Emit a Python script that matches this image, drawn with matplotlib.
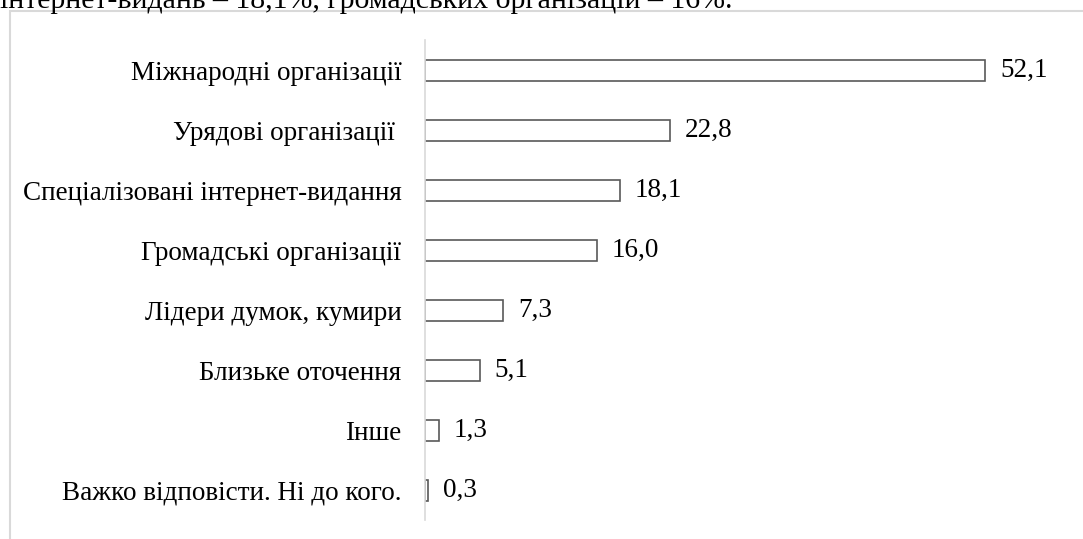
import matplotlib.pyplot as plt
from matplotlib.patches import Rectangle

plt.rcParams['font.family'] = ['Liberation Serif', 'DejaVu Serif']

categories = ['Міжнародні організації', 'Урядові організації ',
              'Спеціалізовані інтернет-видання', 'Громадські організації',
              'Лідери думок, кумири', 'Близьке оточення', 'Інше',
              'Важко відповісти. Ні до кого.']
values = [52.1, 22.8, 18.1, 16.0, 7.3, 5.1, 1.3, 0.3]
value_labels = ['52,1', '22,8', '18,1', '16,0', '7,3', '5,1', '1,3', '0,3']
top_text = 'інтернет-видань – 18,1%, громадських організацій – 16%.'

W, H = 1083, 539
fig = plt.figure(figsize=(W / 100, H / 100), dpi=100)

# frame around the chart (runs off the right/bottom edge)
fig.patches.append(Rectangle((10 / W, -0.1), 1.2, (H - 11) / H + 0.1,
                             transform=fig.transFigure, fill=False,
                             edgecolor='#d9d9d9', linewidth=1.5))
fig.text(0, 1 - 8 / H, top_text, fontsize=21.5, va='baseline', ha='left')

ax = fig.add_axes([425 / W, 1 - 520 / H, (985 - 425) / W * 60 / 52.1, 480 / H])
ypos = list(range(len(categories)))
ax.barh(ypos, values, height=0.35, color='white', edgecolor='#595959', linewidth=1.2)
for y, v, lab in zip(ypos, values, value_labels):
    ax.text(v + 1.4, y, lab, va='center', ha='left', fontsize=19.5)

ax.set_xlim(0, 60)
ax.set_ylim(7.5, -0.5)
ax.set_yticks(ypos)
ax.set_yticklabels(categories, fontsize=19.5)
ax.tick_params(axis='y', length=0, pad=17)
ax.set_xticks([])
for s in ['top', 'right', 'bottom']:
    ax.spines[s].set_visible(False)
ax.spines['left'].set_color('#d9d9d9')
ax.spines['left'].set_linewidth(1.2)
ax.patch.set_alpha(0)

fig.savefig('out.png', dpi=100)
